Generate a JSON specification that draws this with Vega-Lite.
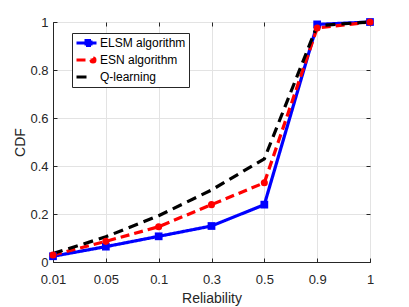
{
  "$schema": "https://vega.github.io/schema/vega-lite/v6.json",
  "autosize": "none",
  "padding": {"left": 53, "top": 22, "right": 39, "bottom": 45},
  "width": 317,
  "height": 240,
  "background": "white",
  "config": {
    "font": "Liberation Sans",
    "view": {"stroke": "#262626", "strokeWidth": 1},
    "axis": {
      "labelFont": "Liberation Sans",
      "titleFont": "Liberation Sans",
      "labelColor": "#262626",
      "titleColor": "#262626",
      "labelFontSize": 13,
      "titleFontSize": 14,
      "titleFontWeight": "normal",
      "domainColor": "#262626",
      "tickColor": "#262626",
      "gridColor": "#e3e3e3",
      "gridOpacity": 1
    }
  },
  "data": {
    "values": [
      {"r": "0.01", "s": "ELSM algorithm", "v": 0.024},
      {"r": "0.05", "s": "ELSM algorithm", "v": 0.064},
      {"r": "0.1", "s": "ELSM algorithm", "v": 0.107},
      {"r": "0.3", "s": "ELSM algorithm", "v": 0.15},
      {"r": "0.5", "s": "ELSM algorithm", "v": 0.239},
      {"r": "0.9", "s": "ELSM algorithm", "v": 0.99},
      {"r": "1", "s": "ELSM algorithm", "v": 1.0},
      {"r": "0.01", "s": "ESN algorithm", "v": 0.029},
      {"r": "0.05", "s": "ESN algorithm", "v": 0.086},
      {"r": "0.1", "s": "ESN algorithm", "v": 0.147},
      {"r": "0.3", "s": "ESN algorithm", "v": 0.239},
      {"r": "0.5", "s": "ESN algorithm", "v": 0.33},
      {"r": "0.9", "s": "ESN algorithm", "v": 0.975},
      {"r": "1", "s": "ESN algorithm", "v": 1.0},
      {"r": "0.01", "s": "Q-learning", "v": 0.035},
      {"r": "0.05", "s": "Q-learning", "v": 0.105},
      {"r": "0.1", "s": "Q-learning", "v": 0.193},
      {"r": "0.3", "s": "Q-learning", "v": 0.3},
      {"r": "0.5", "s": "Q-learning", "v": 0.43},
      {"r": "0.9", "s": "Q-learning", "v": 0.985},
      {"r": "1", "s": "Q-learning", "v": 1.0}
    ]
  },
  "resolve": {"axis": {"x": "independent", "y": "independent"}},
  "layer": [
    {
      "mark": {"type": "line", "strokeWidth": 3.2},
      "encoding": {
        "x": {
          "field": "r", "type": "ordinal",
          "scale": {"type": "point", "domain": ["0.01","0.05","0.1","0.3","0.5","0.9","1"], "padding": 0},
          "axis": {"title": "Reliability", "labelAngle": 0, "grid": true, "tickSize": -4, "labelPadding": 15, "titlePadding": 5}
        },
        "y": {
          "field": "v", "type": "quantitative",
          "scale": {"domain": [0, 1], "nice": false},
          "axis": {"title": "CDF", "values": [0, 0.2, 0.4, 0.6, 0.8, 1], "format": "~g", "grid": true, "tickSize": -4, "labelPadding": 9, "titlePadding": 2}
        },
        "color": {
          "field": "s", "type": "nominal",
          "scale": {"domain": ["ELSM algorithm", "ESN algorithm", "Q-learning"], "range": ["#0000ff", "#ff0000", "#000000"]},
          "legend": {
            "title": null, "orient": "none", "legendX": 19, "legendY": 11,
            "symbolType": "stroke", "symbolStrokeWidth": 3, "symbolSize": 400, "clipHeight": 14,
            "labelFontSize": 12, "labelColor": "#000000", "labelFont": "Liberation Sans",
            "strokeColor": "#262626", "fillColor": "white", "padding": 3, "rowPadding": 3,
            "labelOffset": 2, "labelLimit": 200,
            "encode": {
              "symbols": {
                "update": {
                  "shape": {"signal": "datum.value === 'ELSM algorithm' ? 'M-1,0H1M-0.05,-0.25H0.45V0.25H-0.05Z' : (datum.value === 'ESN algorithm' ? 'M-1,0H0.5M0.45,0A0.2,0.2 0 1,0 0.85,0A0.2,0.2 0 1,0 0.45,0Z' : 'M-1,0H0')"},
                  "fill": {"signal": "datum.value === 'ELSM algorithm' ? '#0000ff' : (datum.value === 'ESN algorithm' ? '#ff0000' : 'transparent')"},
                  "strokeDash": {"value": [1, 0]}
                }
              }
            }
          }
        },
        "strokeDash": {
          "field": "s", "type": "nominal",
          "scale": {"domain": ["ELSM algorithm", "ESN algorithm", "Q-learning"], "range": [[1, 0], [9, 5], [10, 6]]},
          "legend": null
        }
      }
    },
    {
      "transform": [{"filter": "datum.s === 'ELSM algorithm'"}],
      "mark": {"type": "point", "shape": "square", "filled": true, "size": 60, "color": "#0000ff", "opacity": 1},
      "encoding": {
        "x": {"field": "r", "type": "ordinal", "axis": null},
        "y": {"field": "v", "type": "quantitative", "axis": null}
      }
    },
    {
      "transform": [{"filter": "datum.s === 'ESN algorithm'"}],
      "mark": {"type": "point", "shape": "circle", "filled": true, "size": 50, "color": "#ff0000", "opacity": 1},
      "encoding": {
        "x": {"field": "r", "type": "ordinal", "axis": null},
        "y": {"field": "v", "type": "quantitative", "axis": null}
      }
    },
    {
      "mark": {"type": "point", "opacity": 0},
      "encoding": {
        "x": {"field": "r", "type": "ordinal", "axis": {"orient": "top", "labels": false, "title": null, "grid": false, "domain": false, "ticks": true, "tickSize": -4}},
        "y": {"field": "v", "type": "quantitative", "axis": {"orient": "right", "labels": false, "title": null, "grid": false, "domain": false, "ticks": true, "tickSize": -4, "values": [0, 0.2, 0.4, 0.6, 0.8, 1]}}
      }
    }
  ]
}
